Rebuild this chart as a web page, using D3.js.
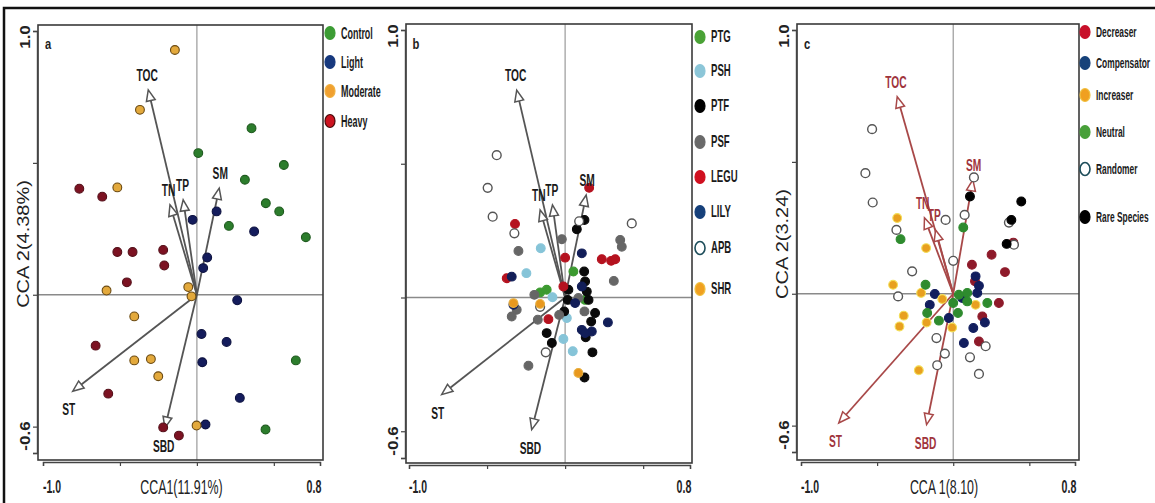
<!DOCTYPE html>
<html>
<head>
<meta charset="utf-8">
<script src="https://cdn.jsdelivr.net/npm/d3@7"></script>
<style>
  body { margin: 0; background: #fff; }
  text { font-family: "Liberation Sans", Arial, sans-serif; }
</style>
</head>
<body>
<div id="chart"></div>
<script>
// ---- data (axis units) ----
const envVars = ["TOC", "TN", "TP", "SM", "ST", "SBD"];
const arrowsA = [[-0.316, 0.777], [-0.175, 0.341], [-0.089, 0.360], [0.145, 0.404], [-0.807, -0.366], [-0.208, -0.505]];
const arrowsB = [[-0.310, 0.775], [-0.160, 0.327], [-0.081, 0.346], [0.135, 0.383], [-0.791, -0.363], [-0.214, -0.494]];
const arrowsC = [[-0.368, 0.747], [-0.189, 0.288], [-0.116, 0.242], [0.129, 0.432], [-0.752, -0.490], [-0.175, -0.496]];

// panel a : grazing intensity
const groupsA = ["Control", "Light", "Moderate", "Heavy"];
const aControl = [[0.355, 0.631], [0.009, 0.537], [0.565, 0.492], [0.312, 0.436], [0.448, 0.347], [0.535, 0.316],
  [0.208, 0.261], [0.708, 0.218], [0.643, -0.249], [0.446, -0.511]];
const aLight = [[-0.028, 0.284], [0.128, 0.316], [0.372, 0.240], [0.067, 0.141], [0.041, 0.101], [0.262, -0.021],
  [0.030, -0.149], [0.193, -0.179], [0.035, -0.256], [0.279, -0.391], [0.056, -0.492]];
const aModerate = [[-0.143, 0.928], [-0.370, 0.701], [-0.517, 0.407], [-0.056, 0.029], [-0.035, -0.006], [-0.587, 0.016],
  [-0.407, -0.082], [-0.407, -0.249], [-0.299, -0.244], [-0.251, -0.309], [-0.002, -0.496]];
const aHeavy = [[-0.764, 0.402], [-0.615, 0.372], [-0.517, 0.162], [-0.418, 0.162], [-0.219, 0.170], [-0.212, 0.111],
  [-0.455, 0.047], [-0.658, -0.193], [-0.576, -0.375], [-0.219, -0.503], [-0.117, -0.534]];

// panel b : functional groups
const groupsB = ["PTG", "PSH", "PTF", "PSF", "LEGU", "LILY", "APB", "SHR"];
const bPTG = [[0.053, 0.097], [-0.160, 0.019], [-0.118, 0.029], [0.128, -0.009]];
const bPSH = [[-0.156, 0.184], [-0.248, 0.091], [-0.081, 0.001], [0.011, -0.077], [-0.011, -0.155], [0.049, -0.201]];
const bPTF = [[0.124, 0.290], [0.075, 0.255], [0.122, 0.097], [0.128, 0.060], [0.139, 0.022], [0.021, 0.029],
  [0.017, -0.009], [0.150, -0.009], [0.192, -0.058], [0.167, -0.090], [-0.006, -0.052], [-0.118, -0.133],
  [-0.085, -0.170], [0.132, -0.149], [0.175, -0.205], [0.124, -0.299]];
const bPSF = [[-0.021, 0.218], [-0.299, 0.174], [0.353, 0.215], [0.363, 0.190], [0.312, 0.062], [-0.197, 0.010],
  [-0.310, -0.046], [-0.342, -0.071], [-0.175, -0.083], [-0.038, -0.065], [0.124, -0.052], [-0.235, -0.255], [0.085, -0.002]];
const bLEGU = [[0.154, 0.410], [-0.321, 0.275], [0.000, 0.149], [0.235, 0.143], [0.295, 0.137], [0.321, 0.143],
  [-0.374, 0.072], [-0.011, 0.041], [-0.107, -0.081]];
const bLILY = [[0.107, 0.165], [-0.342, 0.078], [-0.331, -0.027], [0.064, -0.021], [0.107, -0.121], [0.171, -0.127],
  [0.274, -0.093], [0.128, -0.133], [0.107, 0.041]];
const bAPB = [[-0.438, 0.532], [-0.496, 0.410], [-0.464, 0.302], [-0.325, 0.240], [0.427, 0.277], [-0.124, -0.205],
  [0.090, 0.285], [-0.160, -0.035]];
const bSHR = [[-0.331, -0.021], [-0.160, -0.024], [0.085, -0.282]];

// panel c : response types
const groupsC = ["Decreaser", "Compensator", "Increaser", "Neutral", "Randomer", "Rare Species"];
const cDecreaser = [[0.395, 0.194], [0.252, 0.148], [0.340, 0.082], [0.123, 0.110], [0.143, 0.047], [0.300, -0.035],
  [0.191, -0.086], [0.169, -0.181]];
const cCompensator = [[0.147, 0.066], [0.169, 0.030], [0.158, 0.003], [-0.121, -0.001], [-0.154, -0.042], [-0.029, -0.092],
  [0.208, -0.109], [0.132, -0.130], [0.070, -0.187], [0.059, -0.016]];
const cIncreaser = [[-0.368, 0.287], [-0.178, 0.173], [-0.395, 0.034], [-0.211, 0.003], [-0.072, -0.020], [-0.325, -0.083],
  [-0.353, -0.124], [-0.175, -0.109], [-0.007, -0.128], [0.147, -0.042], [-0.226, -0.290]];
const cNeutral = [[0.066, 0.251], [-0.346, 0.207], [-0.182, 0.034], [-0.171, -0.073], [-0.094, -0.102], [0.000, -0.035],
  [0.031, -0.073], [0.092, 0.003], [0.092, -0.029], [0.224, -0.035], [0.037, -0.004]];
const cRandomer = [[-0.533, 0.624], [-0.577, 0.457], [-0.529, 0.346], [-0.373, 0.242], [-0.050, 0.280], [0.075, 0.299],
  [0.136, 0.441], [0.366, 0.270], [0.399, 0.186], [0.000, 0.125], [-0.270, 0.085], [-0.362, -0.010], [-0.110, -0.168],
  [-0.055, -0.227], [-0.105, -0.271], [0.110, -0.241], [0.213, -0.199], [0.169, -0.304]];
const cRare = [[0.110, 0.369], [0.447, 0.350], [0.382, 0.280], [0.351, 0.189]];

const xTicks = [-1.0, -0.5, 0, 0.5, 0.8];
const yTicks = [1.0, 0.5, 0, -0.5, -0.6];

// ---- styles / layout ----
const panels = [
  {
    tag: "a", xr: [43, 320], yr: [453, 31], box: [38, 25, 323, 460],
    xTitle: "CCA1(11.91%)", yTitle: "CCA 2(4.38%)", arrows: arrowsA, arrowColor: "#555", labelColor: "#1a1a1a",
    groups: groupsA, series: [aControl, aLight, aModerate, aHeavy],
    fill: ["#2c7d2c", "#141c5c", "#e3a93c", "#7c1222"],
    stroke: ["#1f5a1f", "#0d1240", "#6b4a12", "#55101a"],
    legFill: ["#3c9c34", "#17397e", "#f0a030", "#cc1420"],
    legStroke: ["#3c9c34", "#17397e", "#f0b040", "#4a0a0a"],
    legX: 330, legY: [33, 62, 91, 121], legSize: 16, legSx: 0.56
  },
  {
    tag: "b", xr: [409, 690], yr: [458, 30], box: [406, 24, 692, 463],
    xTitle: null, yTitle: null, arrows: arrowsB, arrowColor: "#555", labelColor: "#1a1a1a",
    groups: groupsB, series: [bPTG, bPSH, bPTF, bPSF, bLEGU, bLILY, bAPB, bSHR],
    fill: ["#3c9a30", "#86c4d8", "#0a0a0a", "#666666", "#b5121f", "#121e58", "#ffffff", "#e8981e"],
    stroke: ["#3c9a30", "#86c4d8", "#0a0a0a", "#666666", "#b5121f", "#121e58", "#555555", "#e8b040"],
    legFill: ["#4aa236", "#8cc6d8", "#000000", "#6a6a6a", "#d01020", "#16407a", "#ffffff", "#f0a020"],
    legStroke: ["#4aa236", "#8cc6d8", "#000000", "#6a6a6a", "#d01020", "#16407a", "#1d4d5a", "#f0c040"],
    legX: 700, legY: [37, 71, 106, 142, 177, 212, 248, 289], legSize: 16, legSx: 0.6
  },
  {
    tag: "c", xr: [801, 1075], yr: [452, 30], box: [797, 24, 1079, 460],
    xTitle: "CCA 1(8.10)", yTitle: "CCA 2(3.24)", arrows: arrowsC, arrowColor: "#a84848", labelColor: "#a0343c",
    groups: groupsC, series: [cDecreaser, cCompensator, cIncreaser, cNeutral, cRandomer, cRare],
    fill: ["#8e1a2a", "#121e5e", "#e8a020", "#2e8b2e", "#ffffff", "#000000"],
    stroke: ["#8e1a2a", "#121e5e", "#f3de58", "#2e8b2e", "#555555", "#000000"],
    legFill: ["#c8102a", "#17427a", "#f0a020", "#48a03a", "#ffffff", "#000000"],
    legStroke: ["#c8102a", "#17427a", "#f0c040", "#48a03a", "#1d4d5a", "#000000"],
    legX: 1085, legY: [32, 63, 95, 132, 169, 217], legSize: 14, legSx: 0.6
  }
];

const W = 1155, H = 503;
const svg = d3.select("#chart").append("svg")
  .attr("width", W).attr("height", H)
  .attr("viewBox", [0, 0, W, H]);

// outer frame
svg.append("rect")
  .attr("x", 4).attr("y", 8).attr("width", 1165).attr("height", 520)
  .attr("fill", "none").attr("stroke", "#111").attr("stroke-width", 2.5);

// text with horizontal squeeze (the figure is condensed)
function txt(g, x, y, s, o) {
  const t = g.append("g")
    .attr("transform", `translate(${x},${y})` + (o.rot ? ` rotate(${o.rot})` : "") + ` scale(${o.sx || 1},${o.sy || 1})`)
    .append("text")
    .attr("text-anchor", o.anchor || "middle")
    .attr("dominant-baseline", "central")
    .attr("font-size", o.size)
    .attr("font-weight", o.weight || "normal")
    .attr("fill", o.fill || "#222")
    .text(s);
  return t;
}

panels.forEach(p => {
  const x = d3.scaleLinear().domain([-1.0, 0.8]).range(p.xr);
  const y = d3.scaleLinear().domain([-0.6, 1.0]).range(p.yr);
  const [bl, bt, br, bb] = p.box;
  const g = svg.append("g");

  // zero lines
  g.append("line").attr("x1", x(0)).attr("x2", x(0)).attr("y1", bt).attr("y2", bb)
    .attr("stroke", "#9a9a9a").attr("stroke-width", 1.2);
  g.append("line").attr("x1", bl).attr("x2", br).attr("y1", y(0)).attr("y2", y(0))
    .attr("stroke", "#8a8a8a").attr("stroke-width", 1.3);

  // frame
  g.append("rect").attr("x", bl).attr("y", bt).attr("width", br - bl).attr("height", bb - bt)
    .attr("fill", "none").attr("stroke", "#3a3a3a").attr("stroke-width", 1.6);

  // axes with ticks (CANOCO style, just outside the frame)
  const left = g.append("g").attr("transform", `translate(${bl - 1},0)`)
    .call(d3.axisLeft(y).tickValues(yTicks).tickSize(4).tickFormat(""));
  const bottom = g.append("g").attr("transform", `translate(0,${bb + 2})`)
    .call(d3.axisBottom(x).tickValues(xTicks).tickSize(4).tickFormat(""));
  [left, bottom].forEach(a => {
    a.select(".domain").attr("stroke", "#444").attr("stroke-width", 1.4);
    a.selectAll(".tick line").attr("stroke", "#444").attr("stroke-width", 1.2);
  });

  // end tick labels
  txt(g, bl - 13, y(1.0) + 6, "1.0", { size: 17, rot: -90, sy: 0.85, weight: "bold" });
  txt(g, bl - 13, y(-0.6) - 17, "-0.6", { size: 17, rot: -90, sy: 0.85, weight: "bold" });
  txt(g, x(-1.0) + 9, 486, "-1.0", { size: 19, sx: 0.55, weight: "bold" });
  txt(g, x(0.8) - 6, 486, "0.8", { size: 19, sx: 0.56, weight: "bold" });

  if (p.xTitle) txt(g, (x(-1) + x(0.8)) / 2 + (p.tag === "a" ? 0 : 6), 487, p.xTitle, { size: 20, sx: 0.62 });
  if (p.yTitle) txt(g, bl - 14, 244, p.yTitle, { size: 20, rot: -90, sy: 0.78 });

  txt(g, bl + 10, 45, p.tag, { size: 14, sx: 0.8, weight: "bold" });

  // environmental arrows
  const ag = g.append("g");
  p.arrows.forEach((v, i) => {
    const x0 = x(0), y0 = y(0), x1 = x(v[0]), y1 = y(v[1]);
    const len = Math.hypot(x1 - x0, y1 - y0);
    const ux = (x1 - x0) / len, uy = (y1 - y0) / len;
    const hl = 11, hw = 4.5;
    const bx = x1 - ux * hl, by = y1 - uy * hl;
    ag.append("line").attr("x1", x0).attr("y1", y0).attr("x2", bx).attr("y2", by)
      .attr("stroke", p.arrowColor).attr("stroke-width", 1.8);
    ag.append("path")
      .attr("d", `M${x1},${y1}L${bx - uy * hw},${by + ux * hw}L${bx + uy * hw},${by - ux * hw}Z`)
      .attr("fill", "#fff").attr("stroke", p.arrowColor).attr("stroke-width", 1.5);
  });

  // sample / species points
  p.series.forEach((pts, k) => {
    g.append("g").selectAll("circle").data(pts).join("circle")
      .attr("cx", d => x(d[0])).attr("cy", d => y(d[1]))
      .attr("r", 4.4)
      .attr("fill", p.fill[k])
      .attr("stroke", p.stroke[k])
      .attr("stroke-width", p.fill[k] === "#ffffff" ? 1.4 : 1.1);
  });

  // arrow labels
  p.arrows.forEach((v, i) => {
    const x0 = x(0), y0 = y(0), x1 = x(v[0]), y1 = y(v[1]);
    const len = Math.hypot(x1 - x0, y1 - y0);
    const ux = (x1 - x0) / len, uy = (y1 - y0) / len;
    const lx = x1 + ux * 5, ly = y1 + (uy < 0 ? -15 : 18);
    txt(g, lx, ly, envVars[i], { size: 17, sx: 0.6, weight: "bold", fill: p.labelColor });
  });

  // legend
  p.groups.forEach((name, k) => {
    g.append("ellipse").attr("cx", p.legX).attr("cy", p.legY[k]).attr("rx", 5).attr("ry", 6.5)
      .attr("fill", p.legFill[k]).attr("stroke", p.legStroke[k])
      .attr("stroke-width", p.legFill[k] === "#ffffff" ? 1.6 : 1.2);
    txt(g, p.legX + 11, p.legY[k], name, { size: p.legSize, sx: p.legSx, anchor: "start", weight: "bold", fill: "#1a1a1a" });
  });
});
</script>
</body>
</html>
